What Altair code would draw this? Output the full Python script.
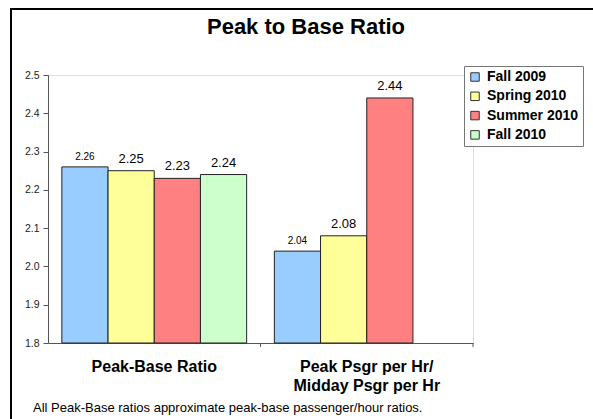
import altair as alt
import pandas as pd

# ---- data ----
CATEGORIES = ["Peak-Base Ratio", "Peak Psgr per Hr/Midday Psgr per Hr"]
SERIES = ["Fall 2009", "Spring 2010", "Summer 2010", "Fall 2010"]
PEAK_BASE = [2.26, 2.25, 2.23, 2.24]
PSGR_RATIO = [2.04, 2.08, 2.44, None]
COLORS = ["#99CCFF", "#FFFF99", "#FF8080", "#CCFFCC"]
Y_TICKS = [1.8, 1.9, 2.0, 2.1, 2.2, 2.3, 2.4, 2.5]
TITLE = "Peak to Base Ratio"
FOOTNOTE = "All Peak-Base ratios approximate peak-base passenger/hour ratios."

rows = []
for cat, vals in zip(CATEGORIES, [PEAK_BASE, PSGR_RATIO]):
    for s, v in zip(SERIES, vals):
        if v is not None:
            rows.append({"category": cat, "series": s, "value": v})
df = pd.DataFrame(rows)

FONT = "Liberation Sans"
W, H = 425, 268

xscale = alt.Scale(domain=CATEGORIES, paddingInner=0, paddingOuter=0)
yscale = alt.Scale(domain=[1.8, 2.5], zero=False, nice=False)

label_expr = ("datum.label == '" + CATEGORIES[1] + "' ? ['Peak Psgr per Hr/', 'Midday Psgr per Hr'] : datum.label")

x_axis = alt.Axis(labelAngle=0, labelFontSize=16, labelFontWeight="bold",
                  labelColor="#000", labelFont=FONT, ticks=False, tickSize=0,
                  labelPadding=15, labelBaseline="top", labelLineHeight=19,
                  domainColor="#555", labelExpr=label_expr)
y_axis = alt.Axis(values=Y_TICKS, format=".1f", labelFontSize=10.5, labelColor="#222",
                  labelFont=FONT, tickSize=5, tickColor="#555", domainColor="#555",
                  labelPadding=4, grid=False, labelOverlap=False)

x_enc = alt.X("category:N", scale=xscale, sort=CATEGORIES, title=None, axis=x_axis)
y_enc = alt.Y("value:Q", scale=yscale, title=None, axis=y_axis)
xoff = alt.XOffset("series:N", scale=alt.Scale(domain=SERIES, paddingInner=0, paddingOuter=0.3))

bars = alt.Chart(df).mark_bar(stroke="#222", strokeWidth=1).encode(
    x=x_enc,
    xOffset=xoff,
    y=y_enc,
    y2=alt.datum(1.8),
    color=alt.Color("series:N", scale=alt.Scale(domain=SERIES, range=COLORS),
                    legend=alt.Legend(title=None, orient="none", legendX=416, legendY=-9,
                                      symbolType="square", symbolSize=72,
                                      symbolStrokeColor="#333", symbolStrokeWidth=1,
                                      labelFontSize=14, labelFontWeight="bold", labelFont=FONT,
                                      labelColor="#000", labelOffset=5, rowPadding=5.3,
                                      padding=4, strokeColor="#777", fillColor="white")),
)

labels = alt.Chart(df).mark_text(baseline="bottom", dy=-5, font=FONT, color="#000").encode(
    x=x_enc,
    xOffset=xoff,
    y=y_enc,
    text=alt.Text("value:Q", format=".2f"),
    size=alt.condition(alt.datum.series == SERIES[0], alt.value(10), alt.value(13)),
)

ticks = alt.Chart(pd.DataFrame({"category": CATEGORIES})).mark_rule(color="#555").encode(
    x=alt.X("category:N", scale=xscale, sort=CATEGORIES, bandPosition=1, title=None, axis=x_axis),
    y=alt.value(H),
    y2=alt.value(H + 4),
)

frame = alt.Chart(pd.DataFrame({"a": [0]})).mark_rect(
    fill="white", fillOpacity=0, stroke="#000", strokeWidth=2
).encode(x=alt.value(-37), x2=alt.value(620), y=alt.value(-66), y2=alt.value(420))

title = alt.Chart(pd.DataFrame({"t": [TITLE]})).mark_text(
    align="center", baseline="alphabetic", fontSize=22, fontWeight="bold", font=FONT, color="#000"
).encode(text="t:N", x=alt.value(258), y=alt.value(-41))

foot = alt.Chart(pd.DataFrame({"t": [FOOTNOTE]})).mark_text(
    align="left", baseline="alphabetic", fontSize=13, font=FONT, color="#000"
).encode(text="t:N", x=alt.value(-15), y=alt.value(337))

chart = alt.layer(frame, bars, labels, ticks, title, foot).properties(
    width=W, height=H,
    autosize=alt.AutoSizeParams(type="none"),
    padding={"left": 48, "top": 75, "right": 120, "bottom": 76},
).configure_view(stroke=None).configure(background="white")

chart.save("out.html", embed_options={"renderer": "svg", "actions": False})
